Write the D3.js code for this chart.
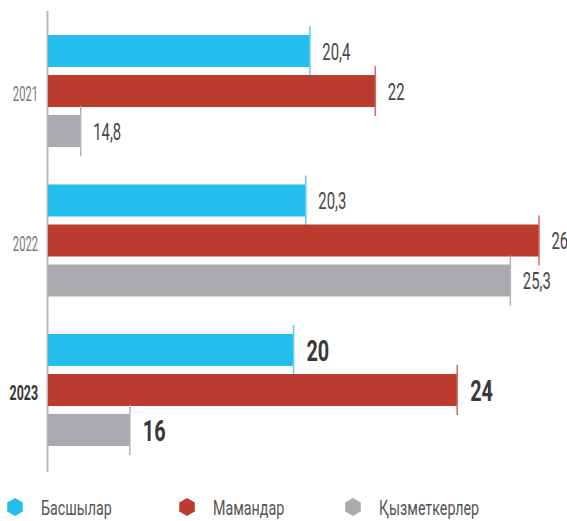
<!DOCTYPE html>
<html>
<head>
<meta charset="utf-8">
<script src="https://cdn.jsdelivr.net/npm/d3@7"></script>
<style>
  html, body { margin: 0; padding: 0; background: #fff; }
  svg { display: block; }
  text { font-family: Roboto, "Noto Sans", sans-serif; }
</style>
</head>
<body>
<svg id="chart" width="567" height="521"></svg>
<script>
// ---- data ----
const years = ["2021", "2022", "2023"];
const seriesNames = ["Басшылар", "Мамандар", "Қызметкерлер"];
const leaders = [20.4, 20.3, 20];
const specialists = [22, 26, 24];
const employees = [14.8, 25.3, 16];
const valueLabels = [["20,4", "22", "14,8"], ["20,3", "26", "25,3"], ["20", "24", "16"]];
const highlightYear = "2023";

const colors = ["#25bdee", "#bb3c2f", "#a9aaae"];
const tickColors = ["#5ccbf2", "#cf6a5f", "#b3b3b6"];

const svg = d3.select("#chart");
const SX = 0.62; // horizontal condensing of text

const rows = years.map((y, i) => ({
  year: y,
  values: [leaders[i], specialists[i], employees[i]],
  labels: valueLabels[i]
}));

const x = d3.scaleLinear().domain([14, 26]).range([48, 539]);
const y0 = d3.scaleBand().domain(years).range([31, 450]).paddingInner(0.197).paddingOuter(0);
const y1 = d3.scaleBand().domain(d3.range(3)).range([0, y0.bandwidth()]).paddingInner(0.2).paddingOuter(0.1);

// axis line
svg.append("line")
  .attr("x1", 47.5).attr("x2", 47.5)
  .attr("y1", 11).attr("y2", 472)
  .attr("stroke", "#b9b9bd").attr("stroke-width", 2);

const groups = svg.selectAll("g.grp").data(rows).join("g")
  .attr("class", "grp")
  .attr("transform", d => `translate(0,${y0(d.year)})`);

groups.each(function(d) {
  const g = d3.select(this);
  const hl = d.year === highlightYear;
  d.values.forEach((v, j) => {
    const top = y1(j), h = y1.bandwidth();
    g.append("rect")
      .attr("x", x(14)).attr("y", top)
      .attr("width", x(v) - x(14)).attr("height", h)
      .attr("fill", colors[j]);
    g.append("line")
      .attr("x1", x(v)).attr("x2", x(v))
      .attr("y1", top - 9).attr("y2", top + h + 9)
      .attr("stroke", tickColors[j]).attr("stroke-width", 1.5);
    g.append("text")
      .attr("transform", `translate(${x(v) + (hl ? 13 : 12.5)},${top + h / 2}) scale(${hl ? 0.66 : SX},1)`)
      .attr("dy", "0.36em")
      .attr("font-size", hl ? 30 : 24)
      .attr("font-weight", hl ? 700 : 400)
      .attr("fill", hl ? "#383838" : "#474747")
      .text(d.labels[j]);
  });
  g.append("text")
    .attr("transform", `translate(38,${y1(1) + y1.bandwidth() / 2 + 3}) scale(${hl ? 0.62 : 0.56},1)`)
    .attr("text-anchor", "end")
    .attr("dy", "0.36em")
    .attr("font-size", 20)
    .attr("font-weight", hl ? 700 : 400)
    .attr("fill", hl ? "#333" : "#7a7a7a")
    .text(d.year);
});

// legend
const legendX = [15, 187, 353];
const legendY = 507;
const hexR = 9;
const hexPath = d3.line()(d3.range(6).map(k => {
  const a = Math.PI / 3 * k - Math.PI / 2;
  return [hexR * Math.cos(a), hexR * Math.sin(a)];
})) + "Z";
const leg = svg.selectAll("g.leg").data(seriesNames).join("g")
  .attr("class", "leg")
  .attr("transform", (d, i) => `translate(${legendX[i]},${legendY})`);
leg.append("path").attr("d", hexPath).attr("fill", (d, i) => colors[i]);
leg.append("text")
  .attr("transform", `translate(26,0) scale(0.68,1)`)
  .attr("dy", "0.36em")
  .attr("font-size", 21)
  .attr("fill", "#555")
  .text(d => d);
</script>
</body>
</html>
